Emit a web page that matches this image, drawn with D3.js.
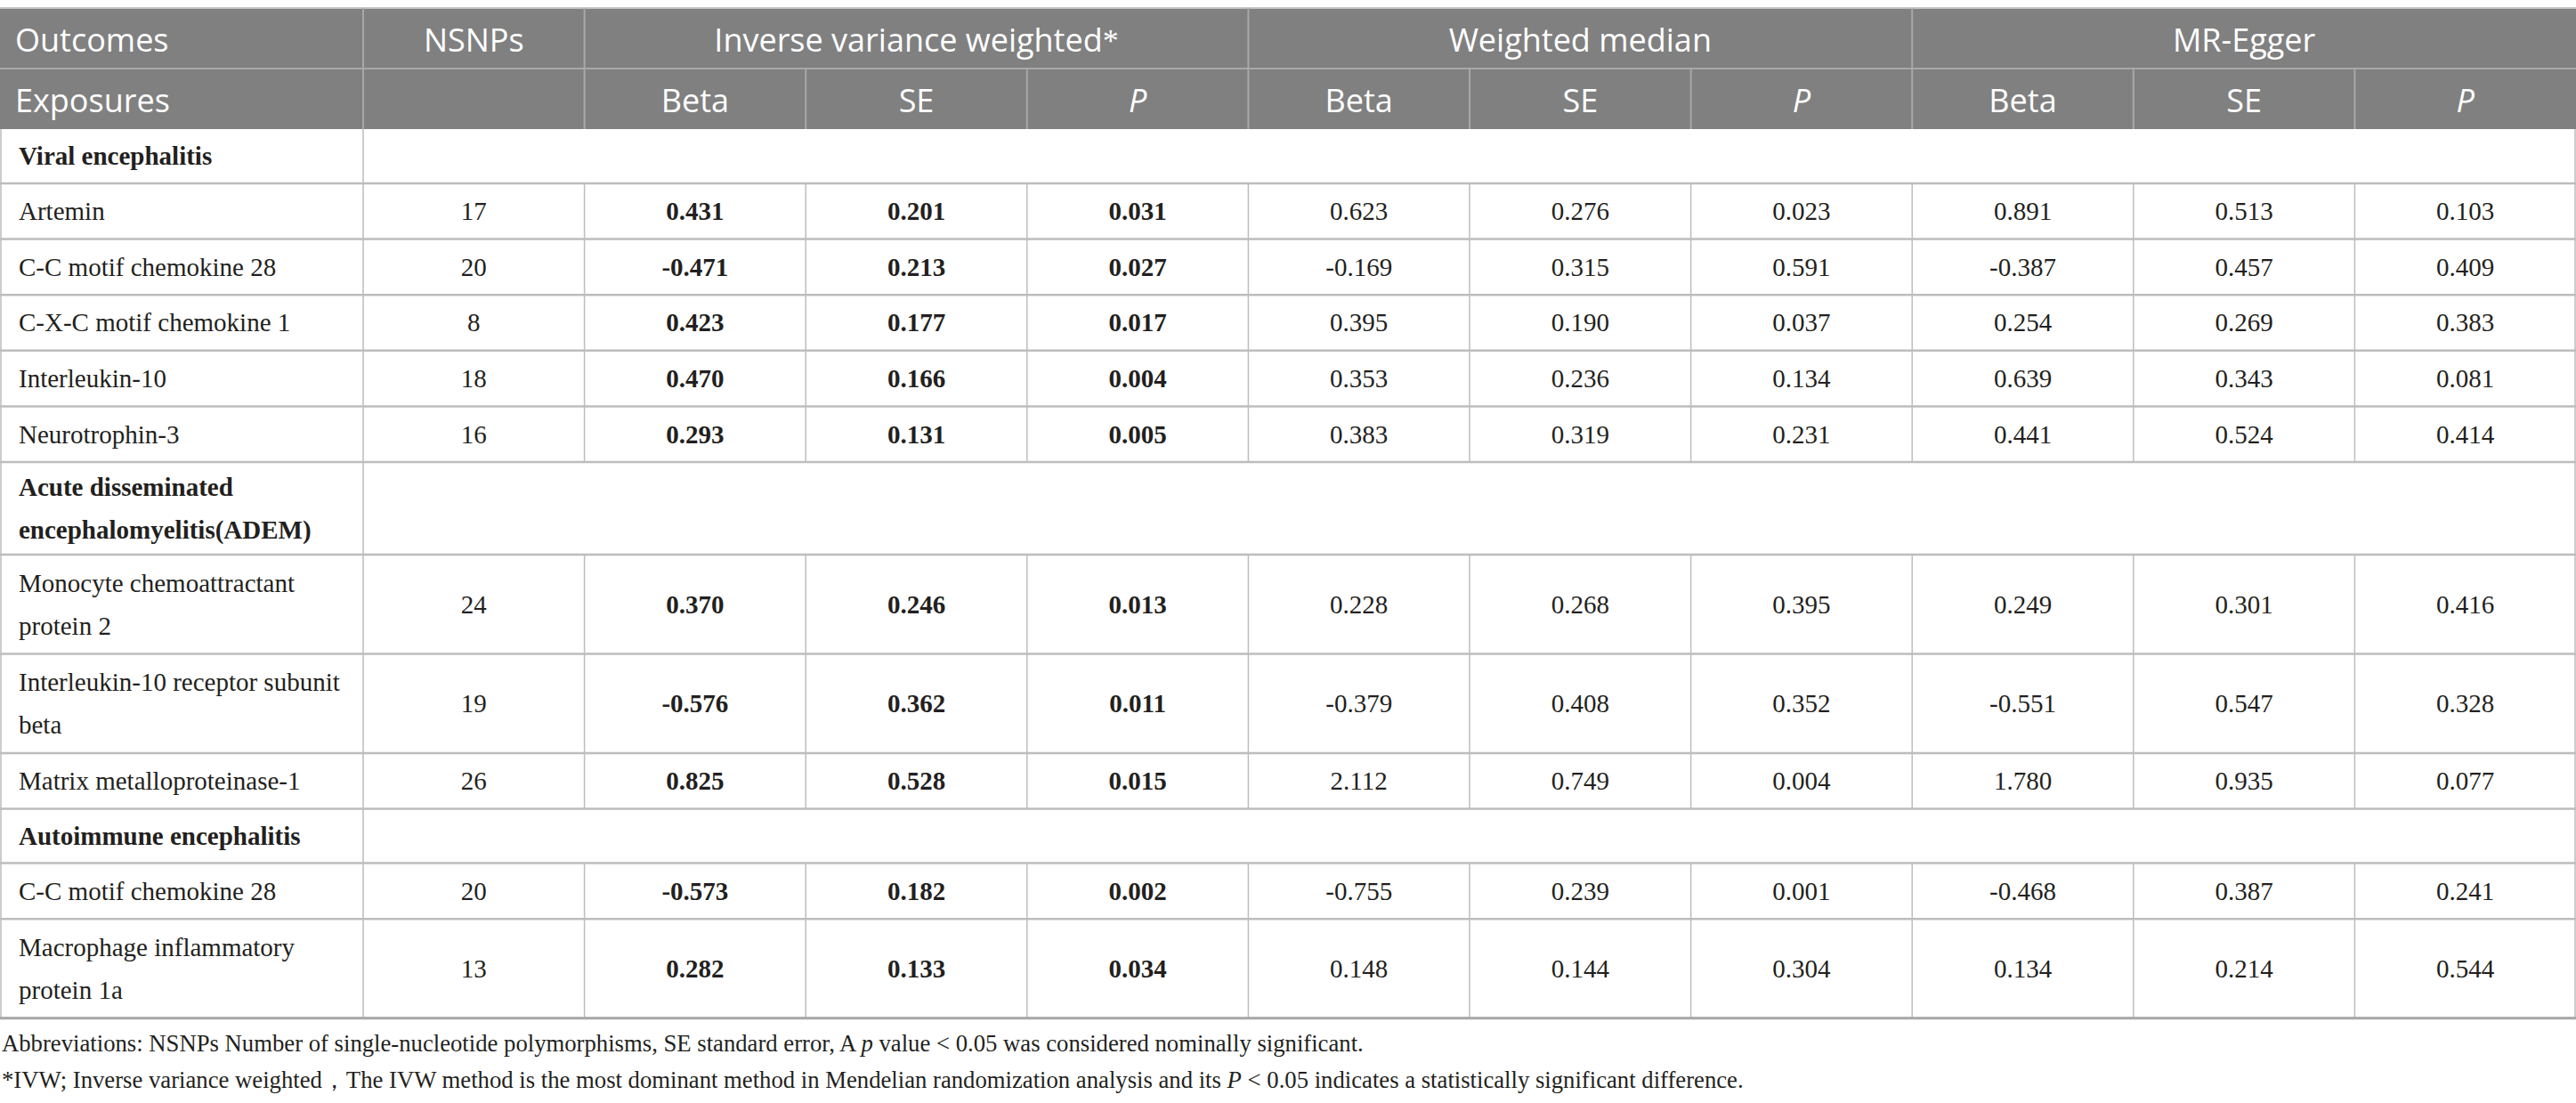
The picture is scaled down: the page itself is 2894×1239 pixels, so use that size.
<!DOCTYPE html>
<html>
<head>
<meta charset="utf-8">
<script src="https://cdn.jsdelivr.net/npm/d3@7"></script>
<style>
  body { margin: 0; background: #fff; }
  svg { display: block; }
</style>
</head>
<body>
<div id="chart"></div>
<script>
// table content
var groups = ["Viral encephalitis", "Acute disseminated\nencephalomyelitis(ADEM)", "Autoimmune encephalitis"];
var exposures = [
    "Artemin", "C-C motif chemokine 28", "C-X-C motif chemokine 1", "Interleukin-10", "Neurotrophin-3",
    "Monocyte chemoattractant\nprotein 2", "Interleukin-10 receptor subunit\nbeta", "Matrix metalloproteinase-1",
    "C-C motif chemokine 28", "Macrophage inflammatory\nprotein 1a"
];
var exposure_group = [0, 0, 0, 0, 0, 1, 1, 1, 2, 2];
var nsnps = [17, 20, 8, 18, 16, 24, 19, 26, 20, 13];

var ivw_beta = [0.431, -0.471, 0.423, 0.470, 0.293, 0.370, -0.576, 0.825, -0.573, 0.282];
var ivw_se = [0.201, 0.213, 0.177, 0.166, 0.131, 0.246, 0.362, 0.528, 0.182, 0.133];
var ivw_p = [0.031, 0.027, 0.017, 0.004, 0.005, 0.013, 0.011, 0.015, 0.002, 0.034];

var wm_beta = [0.623, -0.169, 0.395, 0.353, 0.383, 0.228, -0.379, 2.112, -0.755, 0.148];
var wm_se = [0.276, 0.315, 0.190, 0.236, 0.319, 0.268, 0.408, 0.749, 0.239, 0.144];
var wm_p = [0.023, 0.591, 0.037, 0.134, 0.231, 0.395, 0.352, 0.004, 0.001, 0.304];

var egger_beta = [0.891, -0.387, 0.254, 0.639, 0.441, 0.249, -0.551, 1.780, -0.468, 0.134];
var egger_se = [0.513, 0.457, 0.269, 0.343, 0.524, 0.301, 0.547, 0.935, 0.387, 0.214];
var egger_p = [0.103, 0.409, 0.383, 0.081, 0.414, 0.416, 0.328, 0.077, 0.241, 0.544];

var methods = ["Inverse variance weighted", "Weighted median", "MR-Egger"];
var sub_headers = ["Beta", "SE", "P"];
var footnotes = [
    [["Abbreviations: NSNPs Number of single-nucleotide polymorphisms, SE standard error, A ", false], ["p", true], [" value < 0.05 was considered nominally significant.", false]],
    [["*IVW; Inverse variance weighted，The IVW method is the most dominant method in Mendelian randomization analysis and its ", false], ["P", true], [" < 0.05 indicates a statistically significant difference.", false]]
];

var W = 2894, H = 1239;
var first_col = 408;
var top_y = 9;
var head_h = 68;
var line_h = 48;
var serif = "'Liberation Serif', 'Times New Roman', serif";
var sans = "'Open Sans', 'Noto Sans', sans-serif";
var body_size = 29;
var grid = "#bdbdbd";

var svg = d3.select("#chart").append("svg")
    .attr("width", W)
    .attr("height", H);

var x = d3.scaleBand().domain(d3.range(10)).range([first_col, W]);
var fmt = v => v.toFixed(3);

// build the body rows in order
var rows = [];
var last_group = -1;
exposures.forEach((e, i) => {
    if (exposure_group[i] !== last_group) {
        last_group = exposure_group[i];
        rows.push({type: "g", label: groups[last_group]});
    }
    rows.push({
        type: "d", label: e,
        cells: [nsnps[i], fmt(ivw_beta[i]), fmt(ivw_se[i]), fmt(ivw_p[i]),
            fmt(wm_beta[i]), fmt(wm_se[i]), fmt(wm_p[i]),
            fmt(egger_beta[i]), fmt(egger_se[i]), fmt(egger_p[i])]
    });
});

var y = top_y + 2 * head_h;
rows.forEach(r => {
    r.lines = r.label.split("\n");
    if (r.type === "g") r.h = r.lines.length > 1 ? 104 : 61;
    else r.h = r.lines.length > 1 ? 111.5 : 62.6;
    r.y = y;
    y += r.h;
});
var table_bottom = y;

// header background
svg.append("rect")
    .attr("x", 0).attr("y", top_y)
    .attr("width", W).attr("height", 2 * head_h)
    .attr("fill", "#808080");

var head = svg.append("g");
function head_text(tx, ty, txt, anchor, italic) {
    head.append("text")
        .attr("x", tx).attr("y", ty)
        .attr("text-anchor", anchor)
        .attr("font-family", sans)
        .attr("font-size", 36)
        .attr("font-style", italic ? "italic" : "normal")
        .attr("fill", "#fff")
        .text(txt);
}
var hb1 = top_y + head_h / 2 + 15;
var hb2 = top_y + head_h * 1.5 + 15;
head_text(17, hb1, "Outcomes", "start");
head_text(x(0) + x.bandwidth() / 2, hb1, "NSNPs", "middle");
methods.forEach((m, k) => {
    var cx = x(1 + k * 3) + x.bandwidth() * 1.5;
    var t = head.append("text")
        .attr("x", cx).attr("y", hb1)
        .attr("text-anchor", "middle")
        .attr("font-family", sans)
        .attr("font-size", 36)
        .attr("fill", "#fff")
        .text(m);
    if (k === 0) {
        t.append("tspan").attr("font-family", serif).attr("font-weight", 300).text("*");
    }
    sub_headers.forEach((s, j) => {
        head_text(x(1 + k * 3 + j) + x.bandwidth() / 2, hb2, s, "middle", s === "P");
    });
});
head_text(17, hb2, "Exposures", "start");

// header lines
var hl = svg.append("g").attr("stroke", "#a8a8a8").attr("stroke-width", 2);
hl.append("line").attr("x1", 0).attr("x2", W).attr("y1", top_y).attr("y2", top_y).attr("stroke", "#c4c4c4");
hl.append("line").attr("x1", 0).attr("x2", W).attr("y1", top_y + head_h).attr("y2", top_y + head_h);
[first_col, x(1), x(4), x(7)].forEach(v => {
    hl.append("line").attr("x1", v).attr("x2", v).attr("y1", top_y).attr("y2", top_y + head_h);
});
[first_col].concat(d3.range(1, 10).map(i => x(i))).forEach(v => {
    hl.append("line").attr("x1", v).attr("x2", v).attr("y1", top_y + head_h).attr("y2", top_y + 2 * head_h);
});

// body
var body = svg.append("g");
rows.forEach(r => {
    var g = body.append("g");
    var cy = r.y + r.h / 2;
    var y0 = cy - (r.lines.length - 1) * line_h / 2 + body_size * 0.34;
    r.lines.forEach((ln, k) => {
        g.append("text")
            .attr("x", 21).attr("y", y0 + k * line_h)
            .attr("font-family", serif)
            .attr("font-size", body_size)
            .attr("font-weight", r.type === "g" ? "bold" : "normal")
            .attr("fill", "#231f20")
            .text(ln);
    });
    if (r.type === "d") {
        g.selectAll("text.cell").data(r.cells).enter().append("text")
            .attr("class", "cell")
            .attr("x", (d, i) => x(i) + x.bandwidth() / 2)
            .attr("y", cy + body_size * 0.34)
            .attr("text-anchor", "middle")
            .attr("font-family", serif)
            .attr("font-size", body_size)
            .attr("font-weight", (d, i) => (i >= 1 && i <= 3) ? "bold" : "normal")
            .attr("fill", "#231f20")
            .text(d => d);
    }
    // row lines
    g.append("line").attr("x1", 0).attr("x2", W).attr("y1", r.y + r.h).attr("y2", r.y + r.h)
        .attr("stroke", grid).attr("stroke-width", 2.5);
    var vx = [1, first_col, W - 1];
    if (r.type === "d") vx = vx.concat(d3.range(1, 10).map(i => x(i)));
    vx.forEach(v => {
        g.append("line").attr("x1", v).attr("x2", v).attr("y1", r.y).attr("y2", r.y + r.h)
            .attr("stroke", grid).attr("stroke-width", 1.5);
    });
});
body.append("line").attr("x1", 0).attr("x2", W).attr("y1", table_bottom).attr("y2", table_bottom)
    .attr("stroke", "#a8a8a8").attr("stroke-width", 3);

// footnotes
var fn = svg.append("g");
footnotes.forEach((parts, k) => {
    var t = fn.append("text")
        .attr("x", 2).attr("y", 1181 + k * 41)
        .attr("font-family", serif)
        .attr("font-size", 26.7)
        .attr("fill", "#231f20");
    parts.forEach(p => {
        t.append("tspan").attr("font-style", p[1] ? "italic" : "normal").text(p[0]);
    });
});
</script>
</body>
</html>
